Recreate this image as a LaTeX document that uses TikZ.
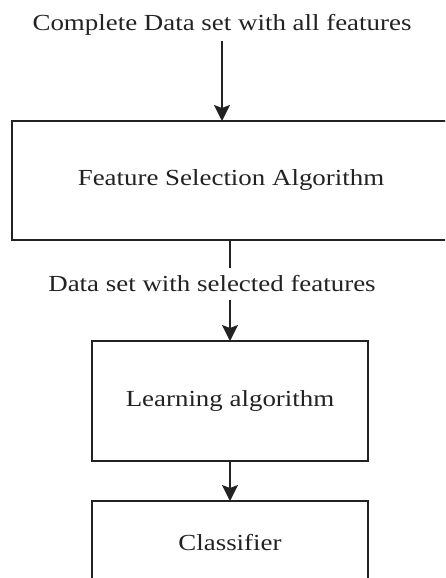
\documentclass[tikz,border=0pt]{standalone}
\usepackage{fontspec}
\setmainfont{Liberation Serif}[FakeStretch=1.17]
\usetikzlibrary{positioning,arrows.meta}
\definecolor{ink}{HTML}{222222}
\begin{document}
\begin{tikzpicture}
[x=1pt,y=1pt,
 every node/.style={font=\fontsize{23}{27}\selectfont,inner sep=0mm,outer sep=0mm},
 lbl/.style={inner sep=6pt},
 box/.style={draw,minimum width=276pt},
 arr/.style={-{Stealth[length=16pt,width=16pt,inset=3pt]}},
 color=ink,line width=1.7pt]
\useasboundingbox (0,0) rectangle (445,-578);
\clip (0,0) rectangle (445,-578);
\node[lbl] (alldata) at (222,-24.7)                                       {Complete Data set with all features};
\node[box,minimum width=438pt,minimum height=119pt] (fsa) [on grid,below right=155.8pt and 9pt of alldata] {Feature Selection Algorithm};
\node[lbl,inner sep=8pt] (seltext) [on grid,below  left=103.5pt and 19pt of fsa]  {Data set with selected features};
\node[box,minimum height=120pt] (learn) [on grid,below right=117pt and 18pt of seltext] {Learning algorithm};
\node[box,minimum height=84pt]  (clf)   [on grid,below=142pt of learn]              {Classifier};
\draw[arr] (alldata) -- (alldata |- fsa.north);
\draw      (fsa.south -| learn) -- (seltext.north -| learn);
\draw[arr] (seltext.south -| learn) -- (learn);
\draw[arr] (learn) -- (clf);
\end{tikzpicture}
\end{document}
